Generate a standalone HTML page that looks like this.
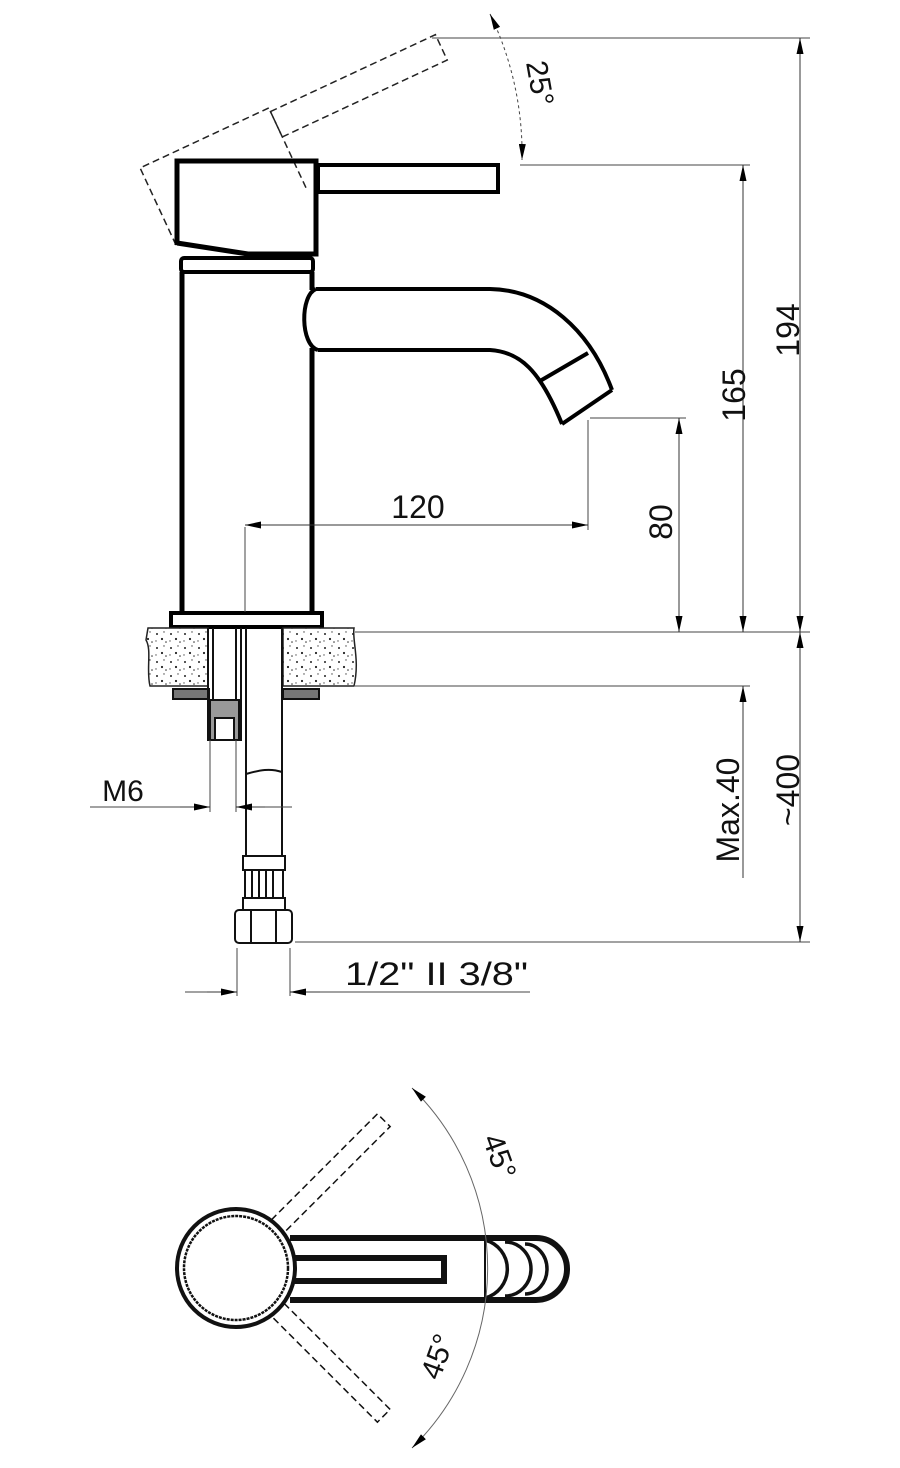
<!DOCTYPE html>
<html><head><meta charset="utf-8"><style>
html,body{margin:0;padding:0;background:#fff}
svg{display:block}
text{font-family:"Liberation Sans",Arial,sans-serif;fill:#111}
</style></head><body>
<svg width="900" height="1468" viewBox="0 0 900 1468" xmlns="http://www.w3.org/2000/svg">
<defs>
<marker id="a" viewBox="0 0 16 7" refX="16" refY="3.5" markerWidth="16" markerHeight="7" orient="auto-start-reverse" markerUnits="userSpaceOnUse"><path d="M0,0 L16,3.5 L0,7 z" fill="#000"/></marker>
<pattern id="stone" width="14" height="14" patternUnits="userSpaceOnUse"><rect width="14" height="14" fill="#fff"/><circle cx="3" cy="4" r="1" fill="#222"/><circle cx="10" cy="2" r="0.7" fill="#444"/><circle cx="8" cy="9" r="1.1" fill="#222"/><circle cx="2" cy="11" r="0.7" fill="#555"/><circle cx="12" cy="12" r="0.8" fill="#333"/></pattern>
</defs>

<g transform="rotate(-25,176,245)" fill="none" stroke="#222" stroke-width="1.5" stroke-dasharray="7,4">
<path d="M176,245 L176,160 L318,160 L318,252"/>
<rect x="318" y="164" width="182" height="28"/>
</g>

<g fill="none" stroke="#000" stroke-width="5">
<path d="M177,245 L177,161 L316,161 L316,254 L248,254 L177,243"/>
<rect x="318" y="165" width="180" height="27" stroke-width="4"/>
<rect x="181" y="258" width="132" height="14" rx="3" stroke-width="4"/>
<path d="M182,272 L182,612 M312,272 L312,290 M312,348 L312,612"/>
<path d="M316,289 C300,295 300,345 318,350" stroke-width="4"/>
<path d="M316,289 L490,289 C545,290 590,330 612,390" stroke-width="4"/>
<path d="M318,350 L490,350 C520,352 540,370 562,424" stroke-width="4"/>
<path d="M540,381 L588,353 M612,390 L562,424" stroke-width="4"/>
<rect x="171" y="613" width="151" height="14" stroke-width="4"/>
</g>

<path d="M148,628 L208,628 L208,686 L150,686 C146,670 152,650 146,640 Z" fill="url(#stone)" stroke="#222" stroke-width="1.5"/>
<path d="M283,628 L354,628 C352,640 360,660 354,686 L283,686 Z" fill="url(#stone)" stroke="#222" stroke-width="1.5"/>
<rect x="173" y="689" width="36" height="10" fill="#777" stroke="#111" stroke-width="2"/>
<rect x="283" y="689" width="36" height="10" fill="#777" stroke="#111" stroke-width="2"/>
<g fill="none" stroke="#111" stroke-width="2">
<path d="M208,628 L208,740 L241,740 L241,628"/>
<path d="M213,628 L213,700 M236,628 L236,700"/>
<rect x="210" y="700" width="29" height="40" fill="#999"/>
<rect x="215" y="718" width="19" height="22" fill="#fff"/>
<path d="M246,628 L246,856 M282,628 L282,856"/>
<path d="M246,774 C260,770 270,768 282,772"/>
<rect x="243" y="856" width="42" height="14"/>
<rect x="245" y="870" width="38" height="28"/>
<path d="M252,870 L252,898 M259,870 L259,898 M266,870 L266,898 M273,870 L273,898"/>
<rect x="243" y="898" width="42" height="12"/>
<rect x="235" y="910" width="57" height="33" rx="4"/>
<path d="M251,910 L251,943 M276,910 L276,943"/>
</g>

<g fill="none" stroke="#444" stroke-width="1">
<line x1="432" y1="38" x2="810" y2="38"/>
<line x1="520" y1="165" x2="750" y2="165"/>
<line x1="590" y1="418" x2="686" y2="418"/>
<line x1="355" y1="632" x2="810" y2="632"/>
<line x1="355" y1="686" x2="750" y2="686"/>
<line x1="295" y1="942" x2="810" y2="942"/>
<line x1="245" y1="527" x2="245" y2="612"/>
<line x1="588" y1="420" x2="588" y2="530"/>
<line x1="210" y1="740" x2="210" y2="812"/>
<line x1="236" y1="740" x2="236" y2="812"/>
<line x1="237" y1="948" x2="237" y2="996"/>
<line x1="290" y1="948" x2="290" y2="996"/>
<line x1="90" y1="807" x2="210" y2="807"/>
<line x1="236" y1="807" x2="292" y2="807"/>
<line x1="185" y1="992" x2="237" y2="992"/>
<line x1="290" y1="992" x2="530" y2="992"/>
</g>
<g fill="none" stroke="#333" stroke-width="1" marker-start="url(#a)" marker-end="url(#a)">
<line x1="800" y1="38" x2="800" y2="632"/>
<line x1="743" y1="165" x2="743" y2="632"/>
<line x1="679" y1="418" x2="679" y2="632"/>
<line x1="245" y1="525" x2="588" y2="525"/>
<line x1="800" y1="632" x2="800" y2="942"/>
</g>
<line x1="743" y1="686" x2="743" y2="878" stroke="#333" stroke-width="1" marker-start="url(#a)"/>
<line x1="180" y1="807" x2="210" y2="807" stroke="#333" marker-end="url(#a)"/>
<line x1="265" y1="807" x2="236" y2="807" stroke="#333" marker-end="url(#a)"/>
<line x1="207" y1="992" x2="237" y2="992" stroke="#333" marker-end="url(#a)"/>
<line x1="320" y1="992" x2="290" y2="992" stroke="#333" marker-end="url(#a)"/>
<path d="M490,14 A320,320 0 0 1 522,160" fill="none" stroke="#444" stroke-dasharray="3,3" marker-start="url(#a)" marker-end="url(#a)"/>

<text x="418" y="518" font-size="32" text-anchor="middle">120</text>
<text x="123" y="801" font-size="30" text-anchor="middle">M6</text>
<text x="345" y="985" font-size="32" textLength="183" lengthAdjust="spacingAndGlyphs">1/2" II 3/8"</text>
<text transform="translate(799,330) rotate(-90)" font-size="32" text-anchor="middle">194</text>
<text transform="translate(745,395) rotate(-90)" font-size="32" text-anchor="middle">165</text>
<text transform="translate(672,522) rotate(-90)" font-size="32" text-anchor="middle">80</text>
<text transform="translate(739,810) rotate(-90)" font-size="32" text-anchor="middle">Max.40</text>
<text transform="translate(799,790) rotate(-90)" font-size="32" text-anchor="middle">~400</text>
<text transform="translate(530,85) rotate(80)" font-size="30" text-anchor="middle">25°</text>

<g fill="none" stroke="#111">
<circle cx="236" cy="1268" r="59" stroke-width="4"/>
<circle cx="236" cy="1268" r="52" stroke-width="2.5" stroke-dasharray="3,1"/>
<path d="M290,1238 L536,1238 A31,31 0 0 1 536,1300 L290,1300" stroke-width="6"/>
<path d="M294,1258 L444,1258 L444,1281 L294,1281" stroke-width="6"/>
<path d="M485,1240 A30,30 0 0 1 485,1298" stroke-width="3.5"/>
<path d="M505,1242 A26,27 0 0 1 505,1296" stroke-width="3.5"/>
<path d="M525,1244 A22,25 0 0 1 525,1294" stroke-width="3.5"/>
<line x1="485" y1="1240" x2="485" y2="1298" stroke-width="2"/>
<g stroke-width="1.5" stroke-dasharray="7,4">
<g transform="rotate(-45,236,1268)"><path d="M295,1259 L445,1259 L445,1277 L295,1277"/></g>
<g transform="rotate(45,236,1268)"><path d="M295,1259 L445,1259 L445,1277 L295,1277"/></g>
</g>
<path d="M412,1088 A252,252 0 0 1 412,1448" stroke="#666" stroke-width="1" marker-start="url(#a)" marker-end="url(#a)"/>
</g>
<text transform="translate(490,1160) rotate(70)" font-size="30" text-anchor="middle">45°</text>
<text transform="translate(447,1360) rotate(-70)" font-size="30" text-anchor="middle">45°</text>
</svg>
</body></html>
